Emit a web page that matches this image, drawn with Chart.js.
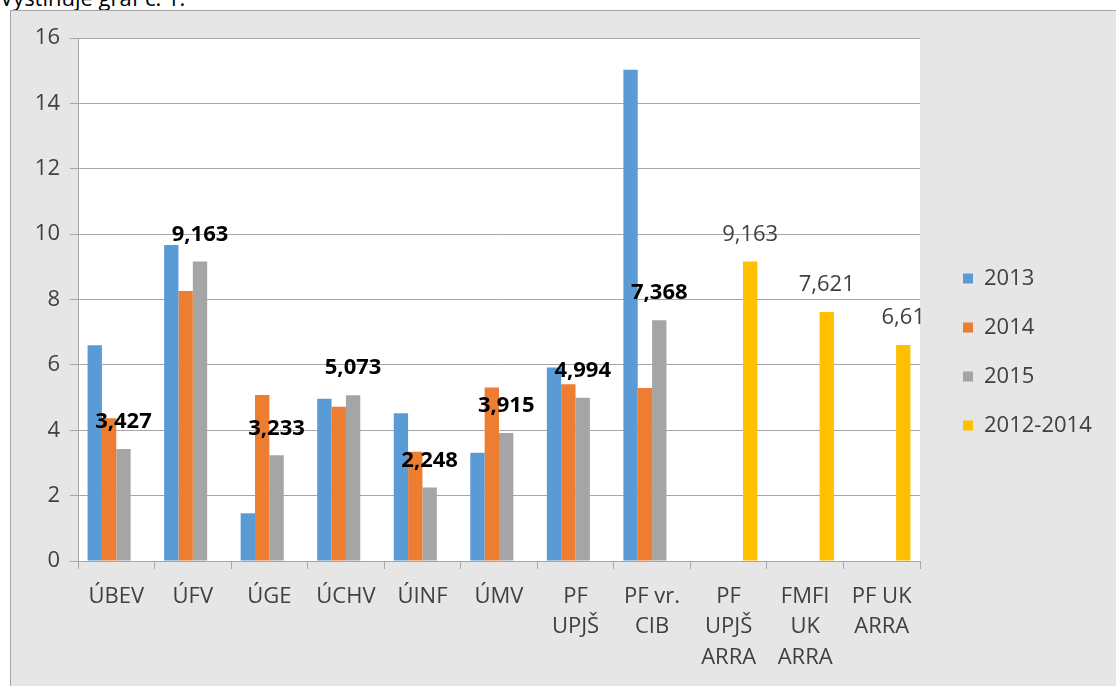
<!DOCTYPE html>
<html lang="sk">
<head>
<meta charset="UTF-8">
<title>Graf č. 1</title>
<script src="https://cdn.jsdelivr.net/npm/chart.js"></script>
<style>
    body { margin: 0; width: 1116px; height: 686px; overflow: hidden; position: relative; background: #fff; font-family: "Open Sans", sans-serif; }
    .nadpis { position: absolute; left: 0; top: -18px; font-size: 22px; color: #000; white-space: nowrap; }
    .ramec { position: absolute; left: 10px; top: 10px; width: 1106px; height: 676px; background: #e6e6e6; box-shadow: inset 1px 1px 0 #a6a6a6; }
    .ramec canvas { position: absolute; left: 0; top: 0; }
</style>
</head>
<body>
<div class="nadpis">Výstihuje graf č. 1.</div>
<div class="ramec">
    <canvas id="graf" width="1106" height="676"></canvas>
</div>

<script>
    const kategorie = ['ÚBEV', 'ÚFV', 'ÚGE', 'ÚCHV', 'ÚINF', 'ÚMV', ['PF', 'UPJŠ'], ['PF vr.', 'CIB'],
        ['PF', 'UPJŠ', 'ARRA'], ['FMFI', 'UK', 'ARRA'], ['PF UK', 'ARRA']];
    const hodnoty2013 = [6.6, 9.67, 1.46, 4.96, 4.52, 3.31, 5.92, 15.03, null, null, null];
    const hodnoty2014 = [4.37, 8.26, 5.08, 4.72, 3.34, 5.31, 5.41, 5.29, null, null, null];
    const hodnoty2015 = [3.427, 9.163, 3.233, 5.073, 2.248, 3.915, 4.994, 7.368, null, null, null];
    const hodnoty2012_2014 = [null, null, null, null, null, null, null, null, 9.163, 7.621, 6.61];
    const osY = { min: 0, max: 16, krok: 2 };

    const pismo = '"Open Sans", sans-serif';

    // biele pozadie plochy grafu
    const pozadie = {
        id: 'pozadie',
        beforeDraw(chart) {
            const a = chart.chartArea;
            chart.ctx.save();
            chart.ctx.fillStyle = '#ffffff';
            chart.ctx.fillRect(a.left, a.top, a.right - a.left, a.bottom - a.top);
            chart.ctx.restore();
        }
    };

    // popisky hodnot nad stlpcami (2015 tucne, 2012-2014 normalne)
    const popisky = {
        id: 'popisky',
        afterDatasetsDraw(chart) {
            const ctx = chart.ctx;
            ctx.save();
            ctx.textAlign = 'center';
            ctx.textBaseline = 'middle';
            [2, 3].forEach(di => {
                const meta = chart.getDatasetMeta(di);
                ctx.font = (di === 2 ? 'bold ' : '') + '22px ' + pismo;
                ctx.fillStyle = di === 2 ? '#000000' : '#404040';
                meta.data.forEach((bar, i) => {
                    const v = chart.data.datasets[di].data[i];
                    if (v === null) return;
                    ctx.fillText(String(v).replace('.', ','), bar.x, bar.y - 27);
                });
            });
            ctx.restore();
        }
    };

    // pevna sirka legendy a jej posun
    const legendaPoloha = {
        id: 'legendaPoloha',
        beforeInit(chart) {
            const leg = chart.legend;
            if (leg) {
                const fit = leg.fit;
                leg.fit = function () { fit.call(this); this.width = 196; };
            }
        },
        afterLayout(chart) {
            chart.legend.left += 16;
            chart.legend.right += 16;
            chart.legend.top -= 10;
            chart.legend.bottom -= 10;
        }
    };

    new Chart(document.getElementById('graf'), {
        type: 'bar',
        data: {
            labels: kategorie,
            datasets: [
                { label: '2013', data: hodnoty2013, backgroundColor: '#5b9bd5' },
                { label: '2014', data: hodnoty2014, backgroundColor: '#ed7d31' },
                { label: '2015', data: hodnoty2015, backgroundColor: '#a5a5a5' },
                { label: '2012-2014', data: hodnoty2012_2014, backgroundColor: '#ffc000' }
            ]
        },
        options: {
            responsive: false,
            devicePixelRatio: 1,
            animation: false,
            layout: { padding: { top: 28, left: 0, right: 0, bottom: 0 } },
            datasets: { bar: { categoryPercentage: 0.75, barPercentage: 1 } },
            plugins: {
                legend: {
                    position: 'right',
                    labels: {
                        boxWidth: 10, boxHeight: 10, padding: 27,
                        color: '#404040', font: { family: pismo, size: 22 }
                    }
                },
                tooltip: { enabled: false }
            },
            scales: {
                x: {
                    grid: { drawOnChartArea: false, drawTicks: true, tickLength: 8, color: '#a6a6a6', offset: true },
                    border: { color: '#a6a6a6' },
                    ticks: {
                        color: '#404040', padding: 12, maxRotation: 0, autoSkip: false,
                        font: { family: pismo, size: 22, lineHeight: 1.4 }
                    },
                    afterFit(scale) { scale.height = 125; }
                },
                y: {
                    min: osY.min, max: osY.max,
                    grid: { color: '#a6a6a6', tickLength: 8 },
                    border: { color: '#a6a6a6' },
                    ticks: {
                        stepSize: osY.krok, color: '#404040', padding: 10,
                        font: { family: pismo, size: 22 }
                    },
                    afterFit(scale) { scale.width = 68; }
                }
            }
        },
        plugins: [pozadie, popisky, legendaPoloha]
    });
</script>
</body>
</html>
